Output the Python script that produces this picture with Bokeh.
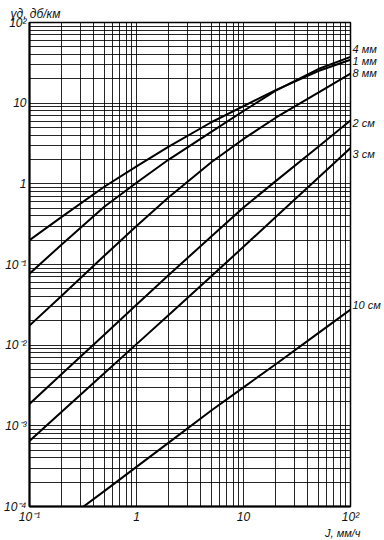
import math

from bokeh.plotting import figure
from bokeh.models import (Range1d, FixedTicker, CustomJSTickFormatter,
                          LogAxis, Title)
from bokeh.embed import file_html
from bokeh.resources import INLINE

# Rain rate J, mm/h
rain = [0.1, 0.2, 0.5, 1, 2, 5, 10, 20, 50, 100]
rain_10cm = [0.32, 0.5, 1, 2, 5, 10, 20, 50, 100]

# Specific attenuation, dB/km, per wavelength
att_1mm = [0.2, 0.39, 0.92, 1.65, 2.9, 5.8, 9.2, 14.5, 25, 34.5]
att_4mm = [0.077, 0.177, 0.52, 1.03, 2.0, 4.4, 8.0, 14.3, 26.5, 37.5]
att_8mm = [0.0175, 0.041, 0.128, 0.30, 0.68, 1.85, 3.6, 6.6, 13.5, 23.3]
att_2cm = [0.00187, 0.00438, 0.0135, 0.0316, 0.074, 0.223, 0.51, 1.08, 2.88, 6.1]
att_3cm = [0.00065, 0.00149, 0.00448, 0.0103, 0.0236, 0.0713, 0.166, 0.388, 1.19, 2.78]
att_10cm = [0.0001, 0.000155, 0.00031, 0.00062, 0.00155, 0.0030, 0.0058, 0.0141, 0.0276]

curve_names = ["4 мм", "1 мм", "8 мм", "2 см", "3 см", "10 см"]
# vertical shift of each curve name from the curve's end, px (up = positive)
name_shift = [8, -1, 1, -3, -6, 5]

x_decades = [0.1, 1, 10, 100]
y_decades = [1e-4, 1e-3, 1e-2, 1e-1, 1, 10, 100]

FONT = "Liberation Sans"
INK = "#111111"

W, H = 384, 540
BORDER_L, BORDER_R, BORDER_T, BORDER_B = 27, 34, 22, 31
frame_h = H - BORDER_T - BORDER_B
px_per_decade = frame_h / (len(y_decades) - 1)


def log_grid(decades):
    ticks = []
    for d in decades[:-1]:
        ticks += [d * k for k in range(1, 10)]
    return ticks + [decades[-1]]


p = figure(width=W, height=H, x_axis_type="log", y_axis_type="log",
           x_range=Range1d(0.1, 100), y_range=Range1d(1e-4, 100),
           output_backend="svg", toolbar_location=None,
           min_border_left=BORDER_L, min_border_right=BORDER_R,
           min_border_top=BORDER_T, min_border_bottom=BORDER_B)
p.background_fill_color = "white"
p.border_fill_color = "white"
p.outline_line_color = "black"
p.outline_line_width = 1.5

# dense logarithmic paper grid
p.xgrid.ticker = FixedTicker(ticks=log_grid(x_decades))
p.ygrid.ticker = FixedTicker(ticks=log_grid(y_decades))
for g in (p.xgrid, p.ygrid):
    g.grid_line_color = "black"
    g.grid_line_width = 1
    g.grid_line_alpha = 0.85

fmt = CustomJSTickFormatter(code="""
const e = Math.round(Math.log10(tick));
const sup = {"-": "\u207b", "0": "\u2070", "1": "\u00b9", "2": "\u00b2",
             "3": "\u00b3", "4": "\u2074"};
if (e == 0) return "1";
if (e == 1) return "10";
return "10" + String(e).split("").map(c => sup[c]).join("");
""")


def style_axis(ax, size="12px"):
    ax.axis_line_color = "black"
    ax.axis_line_width = 2
    ax.major_tick_line_color = None
    ax.minor_tick_line_color = None
    ax.major_tick_out = 0
    ax.major_tick_in = 0
    ax.major_label_text_font = FONT
    ax.major_label_text_font_style = "italic"
    ax.major_label_text_font_size = size
    ax.major_label_text_color = INK


p.xaxis.ticker = FixedTicker(ticks=x_decades, minor_ticks=[])
p.yaxis.ticker = FixedTicker(ticks=y_decades, minor_ticks=[])
for ax in (p.xaxis, p.yaxis):
    ax.formatter = fmt
    style_axis(ax)
p.xaxis.major_label_standoff = 3
p.yaxis.major_label_standoff = 3

series = [(rain, att_4mm), (rain, att_1mm), (rain, att_8mm),
          (rain, att_2cm), (rain, att_3cm), (rain_10cm, att_10cm)]
for xs, ys in series:
    p.line(xs, ys, line_color="black", line_width=2)

# curve names sit on a right-hand axis, next to where each curve ends
name_pos = [10 ** (math.log10(ys[-1]) + dy / px_per_decade)
            for (xs, ys), dy in zip(series, name_shift)]
names_axis = LogAxis(
    ticker=FixedTicker(ticks=name_pos, minor_ticks=[]),
    formatter=CustomJSTickFormatter(args=dict(pos=name_pos, names=curve_names), code="""
let best = 0;
for (let i = 1; i < pos.length; i++) {
  if (Math.abs(Math.log(pos[i] / tick)) < Math.abs(Math.log(pos[best] / tick))) best = i;
}
return names[best];
"""))
style_axis(names_axis, size="11px")
names_axis.axis_line_color = None
names_axis.major_label_standoff = 2
p.add_layout(names_axis, "right")

# axis titles
p.add_layout(Title(text="γд, дб/км", align="left", offset=-19, standoff=4,
                   text_font=FONT, text_font_style="italic",
                   text_font_size="12px", text_color=INK), "above")
p.add_layout(Title(text="J, мм/ч", align="right", offset=-10, standoff=0,
                   vertical_align="top",
                   text_font=FONT, text_font_style="italic",
                   text_font_size="11px", text_color=INK), "below")

open("out.html", "w").write(file_html(p, INLINE))
